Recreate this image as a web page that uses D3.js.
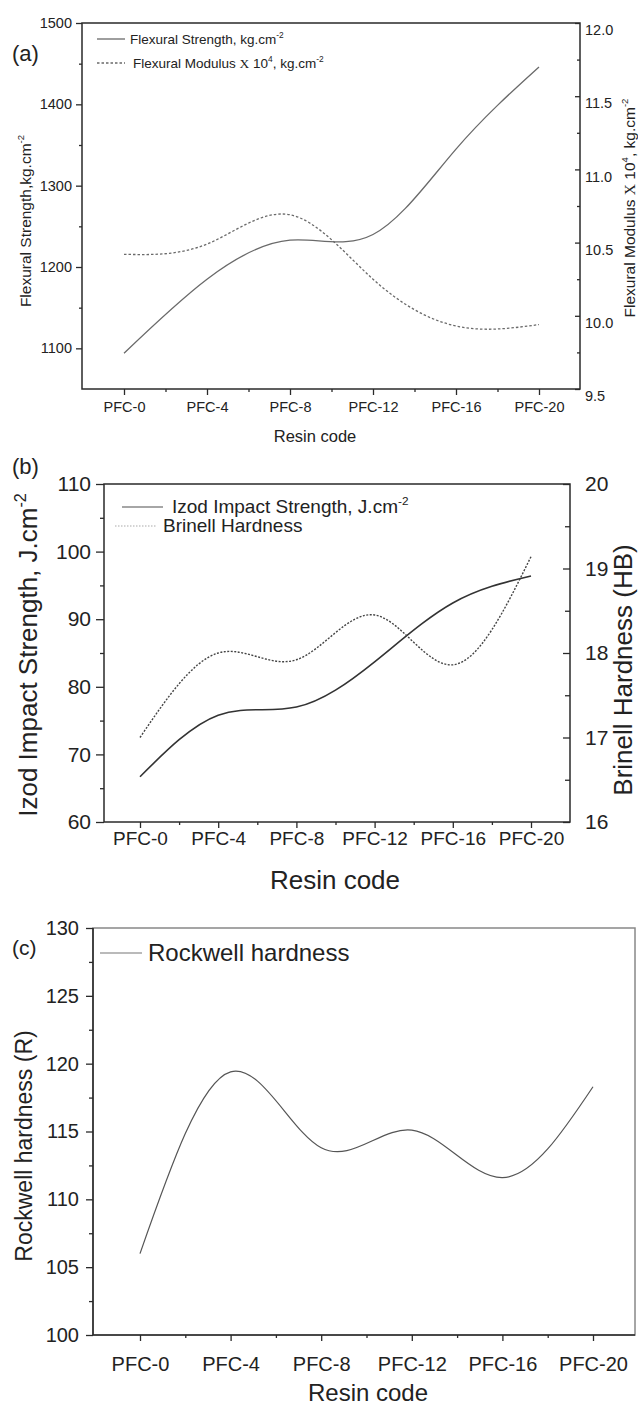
<!DOCTYPE html>
<html>
<head>
<meta charset="utf-8">
<script src="https://cdn.jsdelivr.net/npm/d3@7"></script>
<style>
  body { margin: 0; background: #fff; }
  svg { display: block; font-family: "Liberation Sans", Arial, sans-serif; }
</style>
</head>
<body>
<svg width="638" height="1406"></svg>
<script>
// categories shared by all three panels
const resinCodes = ["PFC-0", "PFC-4", "PFC-8", "PFC-12", "PFC-16", "PFC-20"];

// (a) flexural properties
const flexuralStrength = [1094, 1185, 1233, 1240, 1345, 1446];
const flexuralModulus = [10.42, 10.49, 10.69, 10.25, 9.93, 9.94];
const strengthTicks = [1100, 1200, 1300, 1400, 1500];
const modulusTicks = [9.5, 10.0, 10.5, 11.0, 11.5, 12.0];

// (b) impact strength + brinell hardness
const izodStrength = [66.7, 75.8, 77.0, 83.7, 92.4, 96.4];
const brinellHardness = [17.0, 18.0, 17.92, 18.45, 17.86, 19.14];
const izodTicks = [60, 70, 80, 90, 100, 110];
const brinellTicks = [16, 17, 18, 19, 20];

// (c) rockwell hardness
const rockwellHardness = [106.0, 119.4, 113.8, 115.1, 111.6, 118.3];
const rockwellTicks = [100, 105, 110, 115, 120, 125, 130];

const svg = d3.select("svg");
const axisColor = "#2a2a2a";
const textColor = "#222";

function midpoints(ticks) {
  return d3.pairs(ticks).map(([a, b]) => (a + b) / 2);
}

function styleAxis(sel, size) {
  sel.select(".domain").remove();
  sel.selectAll("line").attr("stroke", axisColor).attr("stroke-width", 1.3);
  sel.selectAll("text").attr("font-size", size).attr("fill", textColor);
}

// text with optional superscript / serif pieces
function label(parent, x, y, size, parts, opts = {}) {
  const t = parent.append("text")
    .attr("x", x).attr("y", y)
    .attr("font-size", size)
    .attr("fill", textColor)
    .attr("text-anchor", opts.anchor || "start");
  if (opts.rotate) t.attr("transform", `rotate(-90, ${x}, ${y})`);
  let raised = false;
  parts.forEach(p => {
    const part = typeof p === "string" ? { t: p } : p;
    const s = t.append("tspan").text(part.t);
    if (part.sup) {
      s.attr("font-size", size * 0.62).attr("dy", -size * 0.42);
      raised = true;
    } else if (raised) {
      s.attr("dy", size * 0.42);
      raised = false;
    }
    if (part.serif) s.attr("font-family", '"Liberation Serif", serif');
  });
  return t;
}

function xAxes(g, x, bottom, size, pad) {
  g.append("g")
    .attr("transform", `translate(0,${bottom})`)
    .call(d3.axisBottom(x).tickValues(d3.range(resinCodes.length))
      .tickFormat(i => resinCodes[i]).tickSize(6).tickPadding(pad))
    .call(styleAxis, size);
  g.append("g")
    .attr("transform", `translate(0,${bottom})`)
    .call(d3.axisBottom(x).tickValues(d3.range(0.5, resinCodes.length - 1, 1))
      .tickFormat("").tickSize(3))
    .call(styleAxis, size);
}

function frame(g, left, top, right, bottom, color) {
  g.append("rect")
    .attr("x", left).attr("y", top)
    .attr("width", right - left).attr("height", bottom - top)
    .attr("fill", "none")
    .attr("stroke", color || axisColor)
    .attr("stroke-width", 1.5);
}

// ---------- (a) ----------
{
  const left = 82, right = 580, top = 23, bottom = 389;
  const g = svg.append("g");
  const x = d3.scaleLinear().domain([0, resinCodes.length - 1]).range([124, 539]);
  const yL = d3.scaleLinear().domain([1050, 1500]).range([bottom, top]);
  const yR = d3.scaleLinear().domain([9.5, 12]).range([bottom, top]);

  g.append("g").attr("transform", `translate(${left},0)`)
    .call(d3.axisLeft(yL).tickValues(strengthTicks).tickSize(6).tickPadding(4).tickFormat(d3.format("d")))
    .call(styleAxis, 14.5);
  g.append("g").attr("transform", `translate(${left},0)`)
    .call(d3.axisLeft(yL).tickValues(midpoints(strengthTicks)).tickSize(3).tickFormat(""))
    .call(styleAxis, 14.5);

  const rAxis = g.append("g").attr("transform", `translate(${right},0)`)
    .call(d3.axisRight(yR).tickValues(modulusTicks).tickSize(-5).tickPadding(5).tickFormat(d3.format(".1f")))
    .call(styleAxis, 14.5);
  rAxis.selectAll("text").attr("transform", "translate(0,7)");
  g.append("g").attr("transform", `translate(${right},0)`)
    .call(d3.axisRight(yR).tickValues(midpoints(modulusTicks)).tickSize(-3).tickFormat(""))
    .call(styleAxis, 14.5);

  xAxes(g, x, bottom, 14.5, 7);
  frame(g, left, top, right, bottom);

  const lineL = d3.line().x((d, i) => x(i)).y(d => yL(d)).curve(d3.curveNatural);
  const lineR = d3.line().x((d, i) => x(i)).y(d => yR(d)).curve(d3.curveNatural);
  g.append("path").datum(flexuralStrength).attr("d", lineL)
    .attr("fill", "none").attr("stroke", "#6a6a6a").attr("stroke-width", 1.3);
  g.append("path").datum(flexuralModulus).attr("d", lineR)
    .attr("fill", "none").attr("stroke", "#6a6a6a").attr("stroke-width", 1.3)
    .attr("stroke-dasharray", "2.5,2");

  // legend
  g.append("line").attr("x1", 97).attr("x2", 125).attr("y1", 39).attr("y2", 39)
    .attr("stroke", "#6a6a6a").attr("stroke-width", 1.3);
  label(g, 130, 44, 13.5, ["Flexural Strength, kg.cm", { t: "-2", sup: true }]);
  g.append("line").attr("x1", 97).attr("x2", 125).attr("y1", 63).attr("y2", 63)
    .attr("stroke", "#6a6a6a").attr("stroke-width", 1.3).attr("stroke-dasharray", "2.5,2");
  label(g, 133, 68, 13.5, ["Flexural Modulus ", { t: "X", serif: true }, " 10", { t: "4", sup: true }, ", kg.cm", { t: "-2", sup: true }]);

  label(g, 12, 61, 22, ["(a)"]);
  label(g, 31, 221, 15.5, ["Flexural Strength,kg.cm", { t: "-2", sup: true }], { anchor: "middle", rotate: true });
  label(g, 635, 208, 15.5, ["Flexural Modulus ", { t: "X", serif: true }, " 10", { t: "4", sup: true }, ", kg.cm", { t: "-2", sup: true }], { anchor: "middle", rotate: true });
  label(g, 315, 442, 16.5, ["Resin code"], { anchor: "middle" });
}

// ---------- (b) ----------
{
  const left = 104, right = 570, top = 484, bottom = 822;
  const g = svg.append("g");
  const x = d3.scaleLinear().domain([0, resinCodes.length - 1]).range([140, 531]);
  const yL = d3.scaleLinear().domain([60, 110]).range([bottom, top]);
  const yR = d3.scaleLinear().domain([16, 20]).range([bottom, top]);

  g.append("g").attr("transform", `translate(${left},0)`)
    .call(d3.axisLeft(yL).tickValues(izodTicks).tickSize(8).tickPadding(5))
    .call(styleAxis, 21);
  g.append("g").attr("transform", `translate(${left},0)`)
    .call(d3.axisLeft(yL).tickValues(midpoints(izodTicks)).tickSize(4).tickFormat(""))
    .call(styleAxis, 21);

  g.append("g").attr("transform", `translate(${right},0)`)
    .call(d3.axisRight(yR).tickValues(brinellTicks).tickSize(-7).tickPadding(15).tickFormat(d3.format("d")))
    .call(styleAxis, 21);
  g.append("g").attr("transform", `translate(${right},0)`)
    .call(d3.axisRight(yR).tickValues(midpoints(brinellTicks)).tickSize(-5).tickFormat(""))
    .call(styleAxis, 21);

  xAxes(g, x, bottom, 19, 4);
  frame(g, left, top, right, bottom);

  const lineL = d3.line().x((d, i) => x(i)).y(d => yL(d)).curve(d3.curveNatural);
  const lineR = d3.line().x((d, i) => x(i)).y(d => yR(d)).curve(d3.curveNatural);
  g.append("path").datum(izodStrength).attr("d", lineL)
    .attr("fill", "none").attr("stroke", "#333").attr("stroke-width", 1.6);
  g.append("path").datum(brinellHardness).attr("d", lineR)
    .attr("fill", "none").attr("stroke", "#444").attr("stroke-width", 1.4)
    .attr("stroke-dasharray", "2,1.5");

  // legend
  g.append("line").attr("x1", 122).attr("x2", 163).attr("y1", 507).attr("y2", 507)
    .attr("stroke", "#888").attr("stroke-width", 1.4);
  label(g, 172, 513, 19, ["Izod Impact Strength, J.cm", { t: "-2", sup: true }]);
  g.append("line").attr("x1", 115).attr("x2", 157).attr("y1", 526).attr("y2", 526)
    .attr("stroke", "#aaa").attr("stroke-width", 1.2).attr("stroke-dasharray", "1.5,1.5");
  label(g, 163, 532, 19, ["Brinell Hardness"]);

  label(g, 12, 474, 22, ["(b)"]);
  label(g, 37, 655, 26, ["Izod Impact Strength, J.cm", { t: "-2", sup: true }], { anchor: "middle", rotate: true });
  label(g, 632, 670, 26, ["Brinell Hardness (HB)"], { anchor: "middle", rotate: true });
  label(g, 335, 889, 26, ["Resin code"], { anchor: "middle" });
}

// ---------- (c) ----------
{
  const left = 93, right = 635, top = 928, bottom = 1335;
  const g = svg.append("g");
  const x = d3.scaleLinear().domain([0, resinCodes.length - 1]).range([140, 593]);
  const y = d3.scaleLinear().domain([100, 130]).range([bottom, top]);

  frame(g, left, top, right, bottom, "#888");

  g.append("g").attr("transform", `translate(${left},0)`)
    .call(d3.axisLeft(y).tickValues(rockwellTicks).tickSize(7).tickPadding(7))
    .call(styleAxis, 20);
  g.append("g").attr("transform", `translate(${left},0)`)
    .call(d3.axisLeft(y).tickValues(midpoints(rockwellTicks)).tickSize(4).tickFormat(""))
    .call(styleAxis, 20);
  g.append("line").attr("x1", left).attr("x2", left).attr("y1", top).attr("y2", bottom)
    .attr("stroke", axisColor).attr("stroke-width", 1.6);
  g.append("line").attr("x1", left).attr("x2", right).attr("y1", bottom).attr("y2", bottom)
    .attr("stroke", axisColor).attr("stroke-width", 1.6);

  xAxes(g, x, bottom, 20, 16);

  const line = d3.line().x((d, i) => x(i)).y(d => y(d)).curve(d3.curveNatural);
  g.append("path").datum(rockwellHardness).attr("d", line)
    .attr("fill", "none").attr("stroke", "#555").attr("stroke-width", 1.2);

  // legend
  g.append("line").attr("x1", 100).attr("x2", 142).attr("y1", 953).attr("y2", 953)
    .attr("stroke", "#777").attr("stroke-width", 1.2);
  label(g, 148, 961, 24, ["Rockwell hardness"]);

  label(g, 12, 955, 21, ["(c)"]);
  label(g, 32, 1146, 23, ["Rockwell hardness (R)"], { anchor: "middle", rotate: true });
  label(g, 368, 1401, 24, ["Resin code"], { anchor: "middle" });
}
</script>
</body>
</html>
